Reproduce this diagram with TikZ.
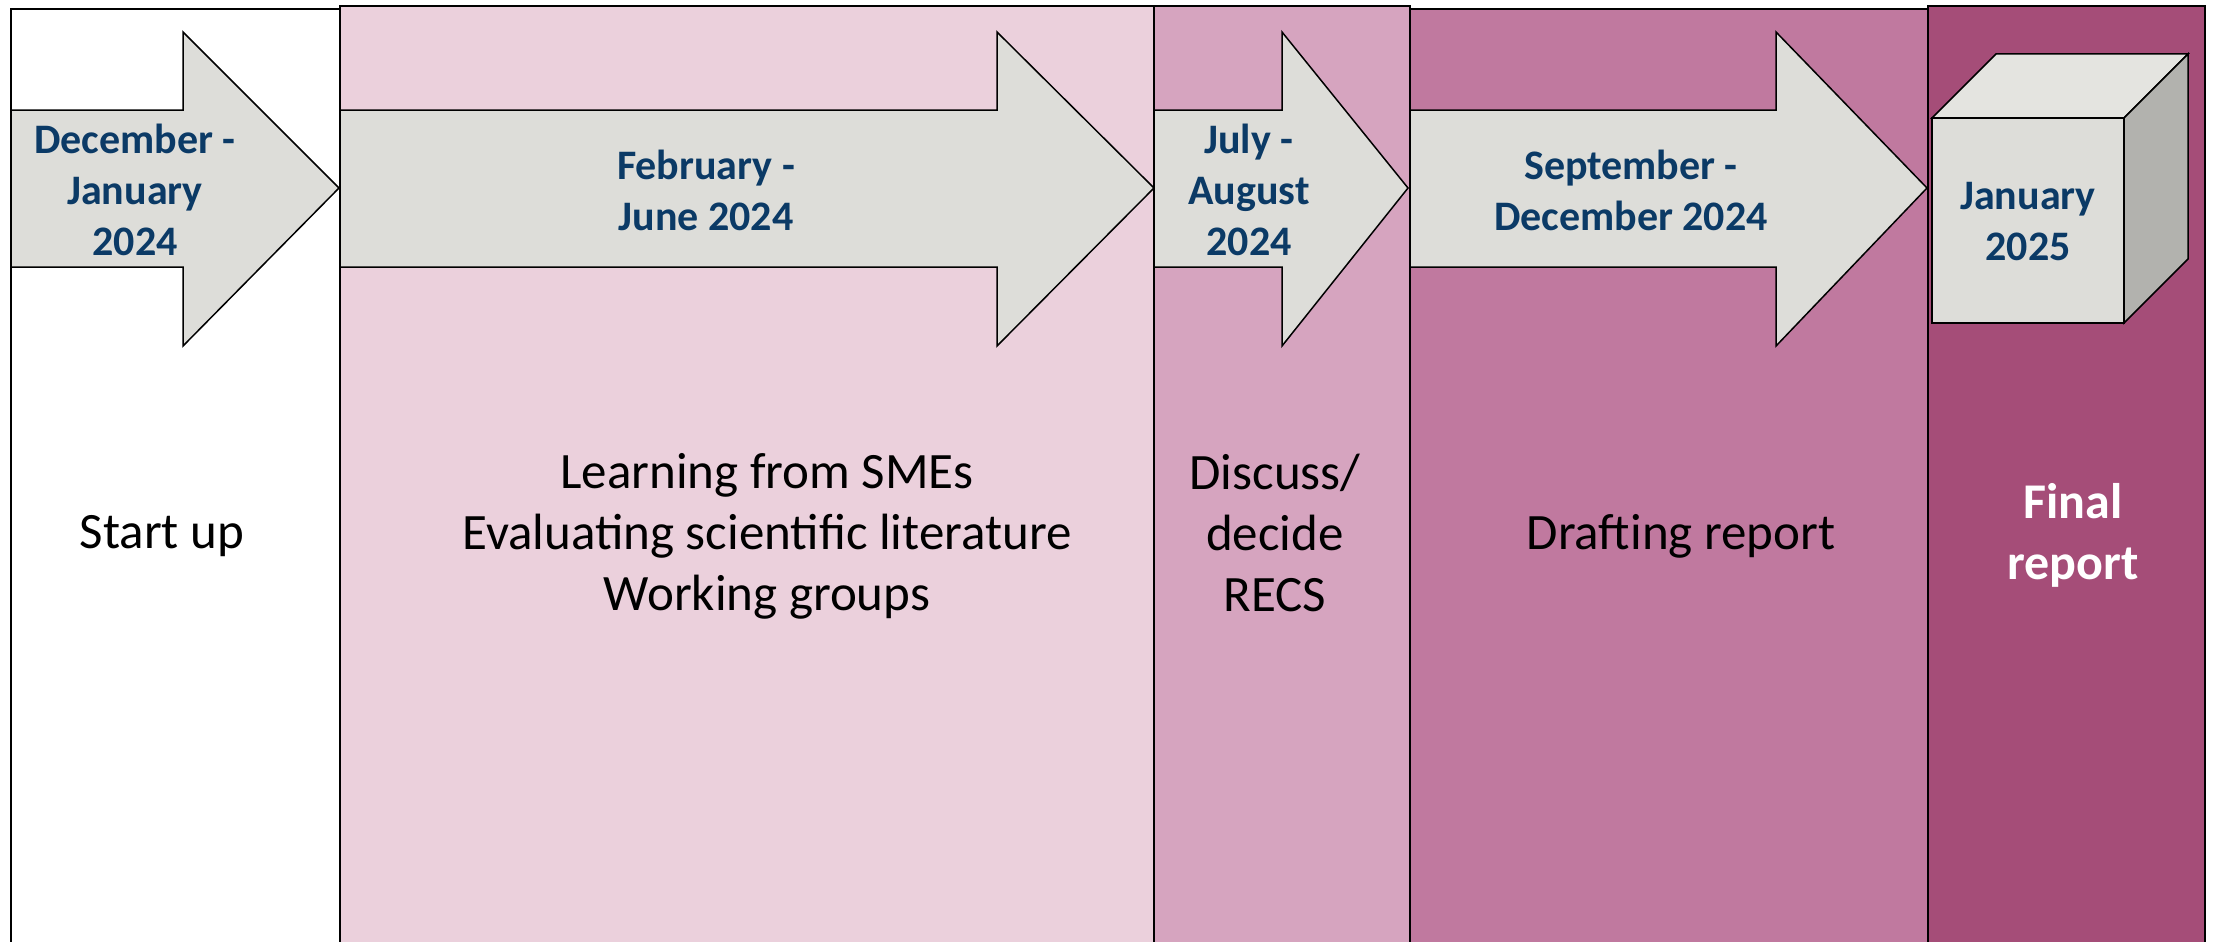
\documentclass[tikz,border=0pt]{standalone}
\usepackage{fontspec}
\setmainfont{Carlito}
\definecolor{colA}{HTML}{EBD0DC}
\definecolor{colB}{HTML}{D6A4BF}
\definecolor{colC}{HTML}{C0799F}
\definecolor{colD}{HTML}{A54D78}
\definecolor{arrowgray}{HTML}{DDDDD9}
\definecolor{cubetop}{HTML}{E4E4E0}
\definecolor{cubeside}{HTML}{B2B2AE}
\definecolor{datecol}{HTML}{0B3A66}
\tikzset{
  column/.style={draw=black, line width=1.5pt},
  arrowshape/.style={draw=black, fill=arrowgray, line width=1.5pt, line join=miter},
  datetext/.style={text=datecol, font=\bfseries\fontsize{42}{51}\selectfont, align=center, inner sep=0pt},
  bodytext/.style={text=black, font=\fontsize{51}{61}\selectfont, align=center, inner sep=0pt},
  finaltext/.style={text=white, font=\bfseries\fontsize{50}{61}\selectfont, align=center, inner sep=0pt}
}
\begin{document}
\begin{tikzpicture}[x=1pt,y=-1pt]
\useasboundingbox (0,0) rectangle (2214,942);
\fill[white] (0,0) rectangle (2214,942);
% columns
\draw[column, fill=white] (11,960) -- (11,9) -- (340,9) -- (340,960);
\draw[column, fill=colA] (340,960) -- (340,6) -- (1154,6) -- (1154,960);
\draw[column, fill=colB] (1154,960) -- (1154,6) -- (1410,6) -- (1410,960);
\draw[column, fill=colC] (1410,960) -- (1410,9) -- (1928,9) -- (1928,960);
\draw[column, fill=colD] (1928,960) -- (1928,6) -- (2205,6) -- (2205,960);
% arrows
\draw[arrowshape] (11,110) -- (183,110) -- (183,32) -- (339,188) -- (183,346) -- (183,267) -- (11,267) -- cycle;
\draw[arrowshape] (340,110) -- (997,110) -- (997,32) -- (1154,188) -- (997,346) -- (997,267) -- (340,267) -- cycle;
\draw[arrowshape] (1154,110) -- (1282,110) -- (1282,32) -- (1408,188) -- (1282,346) -- (1282,267) -- (1154,267) -- cycle;
\draw[arrowshape] (1410,110) -- (1776,110) -- (1776,32) -- (1927,188) -- (1776,346) -- (1776,267) -- (1410,267) -- cycle;
% cube
\draw[arrowshape, fill=cubetop] (1932,118) -- (1996,54) -- (2188,54) -- (2124,118) -- cycle;
\draw[arrowshape, fill=cubeside] (2124,118) -- (2188,54) -- (2188,259) -- (2124,323) -- cycle;
\draw[arrowshape] (1932,118) rectangle (2124,323);
% date texts
\node[datetext] (d1) at (135,190) {December -\\January\\2024};
\node[datetext] (d2) at (706,190) {February -\\June 2024};
\node[datetext] (d3) at (1249,190) {July -\\August\\2024};
\node[datetext] (d4) at (1631,190) {September -\\December 2024};
\node[datetext] (d5) at (2028,222) {January\\2025};
% body texts
\node[bodytext] (b1) at (162,536) {Start up};
\node[bodytext] (b2) at (767,536) {Learning from SMEs\\Evaluating scientific literature\\Working groups};
\node[bodytext] (b3) at (1275,533) {Discuss/\\decide\\RECS};
\node[bodytext] (b4) at (1681,536) {Drafting report};
\node[finaltext] (b5) at (2073,535) {Final\\report};
\end{tikzpicture}
\end{document}
